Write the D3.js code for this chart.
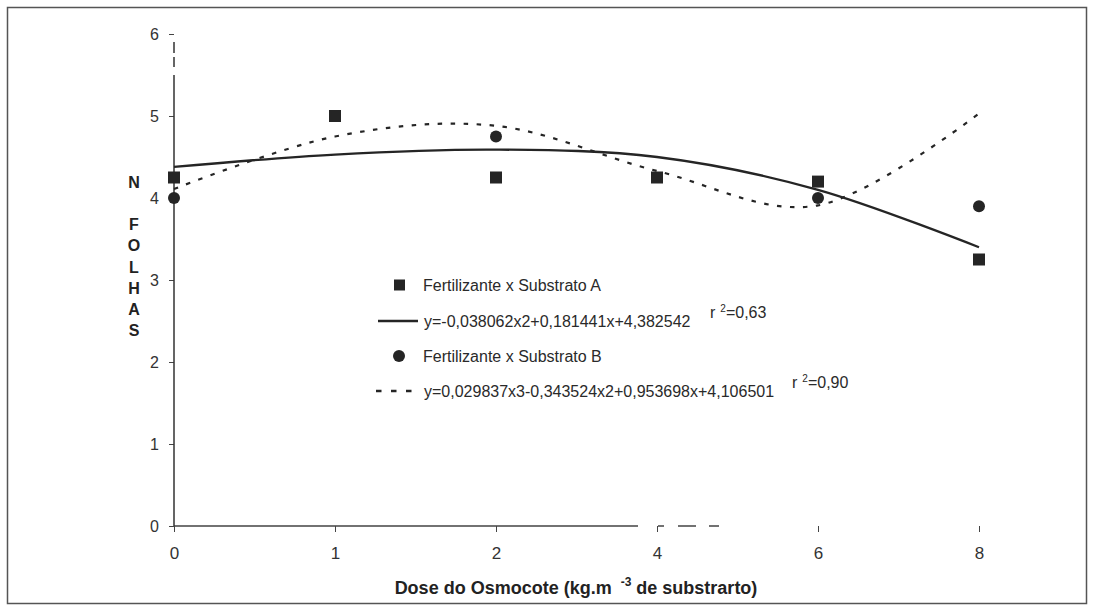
<!DOCTYPE html>
<html>
<head>
<meta charset="utf-8">
<script src="https://cdn.jsdelivr.net/npm/d3@7"></script>
<style>
  body { margin: 0; background: #fff; }
  svg { display: block; }
</style>
</head>
<body>
<div></div>
<script>
const width = 1094, height = 611
const svg = d3.select("div").append("svg")
    .attr("xmlns", "http://www.w3.org/2000/svg")
    .attr("width", width)
    .attr("height", height)

// data
const doses = ["0", "1", "2", "4", "6", "8"]
const obsA = [4.25, 5.0, 4.25, 4.25, 4.2, 3.25]      // squares
const obsB = [4.0, null, 4.75, null, 4.0, 3.9]       // circles (hidden at 1 and 4)
const fitA = [4.38, 4.53, 4.59, 4.50, 4.10, 3.40]    // solid trend
const fitB = [4.11, 4.75, 4.88, 4.33, 3.91, 5.03]    // dashed trend
const yTicks = [0, 1, 2, 3, 4, 5, 6]
const legendNames = ["Fertilizante x Substrato A", "Fertilizante x Substrato B"]
const legendEqs = ["y=-0,038062x2+0,181441x+4,382542", "y=0,029837x3-0,343524x2+0,953698x+4,106501"]
const legendR2 = ["=0,63", "=0,90"]
const yLetters = ["N", "", "F", "O", "L", "H", "A", "S"]

// settings
const font = "'Liberation Sans', Arial, sans-serif"
const ink = "#252525"
const dash = "4.5,8.5"

// scales
const x = d3.scalePoint().domain(doses).range([174, 979])
const y = d3.scaleLinear().domain([0, 6]).range([526, 34])

// frame
svg.append("rect")
    .attr("x", 7.5).attr("y", 7.5)
    .attr("width", 1079).attr("height", 596)
    .attr("fill", "none")
    .attr("stroke", "#555")
    .attr("stroke-width", 1.5)

// x axis (scan has lost most of the right half of the line)
const gx = svg.append("g")
    .attr("transform", `translate(0,${y(0)})`)
    .call(d3.axisBottom(x).tickSize(6).tickSizeOuter(0).tickPadding(15))
gx.select(".domain").remove()
gx.selectAll("line").attr("stroke", "#444")
gx.selectAll("text").attr("font-family", font).attr("font-size", 17).attr("fill", "#333")
svg.append("line")
    .attr("x1", x("0")).attr("x2", x("8"))
    .attr("y1", y(0)).attr("y2", y(0))
    .attr("stroke", "#444").attr("stroke-width", 1.3)
    .attr("stroke-dasharray", "464,20,6,14,18,13,10,1000")

// y axis
const gy = svg.append("g")
    .attr("transform", `translate(${x("0")},0)`)
    .call(d3.axisLeft(y).tickValues(yTicks).tickFormat(d3.format("d")).tickSize(5).tickPadding(10))
gy.select(".domain").remove()
gy.selectAll("line").attr("stroke", "#444")
gy.selectAll("text").attr("font-family", font).attr("font-size", 16).attr("fill", "#333")
svg.append("line")
    .attr("x1", x("0")).attr("x2", x("0"))
    .attr("y1", y(6)).attr("y2", y(0))
    .attr("stroke", "#333").attr("stroke-width", 1.5)
    .attr("stroke-dasharray", "0,8,11,4,10,8,1000")

// y label, one letter per line
svg.append("g").selectAll("text").data(yLetters).enter().append("text")
    .attr("x", 134)
    .attr("y", (d, i) => 182 + i * 21.2)
    .attr("dy", "0.36em")
    .attr("text-anchor", "middle")
    .attr("font-family", font).attr("font-size", 16).attr("font-weight", "bold")
    .attr("fill", "#222")
    .text(d => d)

// x title
const title = svg.append("text")
    .attr("x", 576).attr("y", 594)
    .attr("text-anchor", "middle")
    .attr("font-family", font).attr("font-size", 18).attr("font-weight", "bold")
    .attr("fill", "#222")
title.append("tspan").text("Dose do Osmocote (kg.m ")
title.append("tspan").attr("font-size", 12).attr("dx", 4).attr("dy", -8).text("-3")
title.append("tspan").attr("dy", 8).text(" de substrarto)")

// trend lines
const line = d3.line()
    .x((d, i) => x(doses[i]))
    .y(d => y(d))
    .curve(d3.curveCardinal.tension(0))
svg.append("path")
    .attr("d", line(fitB))
    .attr("fill", "none").attr("stroke", ink)
    .attr("stroke-width", 2.2).attr("stroke-dasharray", dash)
svg.append("path")
    .attr("d", line(fitA))
    .attr("fill", "none").attr("stroke", ink)
    .attr("stroke-width", 2.3)

// observed points
const obsBPts = obsB.map((v, i) => ({x: doses[i], v})).filter(d => d.v != null)
svg.selectAll(".ptB").data(obsBPts).enter().append("circle")
    .attr("cx", d => x(d.x)).attr("cy", d => y(d.v))
    .attr("r", 6).attr("fill", ink)
svg.selectAll(".ptA").data(obsA).enter().append("rect")
    .attr("x", (d, i) => x(doses[i]) - 6).attr("y", d => y(d) - 6)
    .attr("width", 12).attr("height", 12).attr("fill", ink)

// legend
const lg = svg.append("g").attr("font-family", font).attr("font-size", 16).attr("fill", "#2a2a2a")
const rowY = [285, 321, 356, 391]
lg.append("rect").attr("x", 394).attr("y", rowY[0] - 5.5).attr("width", 11).attr("height", 11).attr("fill", ink)
lg.append("circle").attr("cx", 399).attr("cy", rowY[2]).attr("r", 6).attr("fill", ink)
lg.append("line").attr("x1", 378).attr("x2", 418).attr("y1", rowY[1]).attr("y2", rowY[1])
    .attr("stroke", ink).attr("stroke-width", 2.3)
lg.append("line").attr("x1", 376).attr("x2", 418).attr("y1", rowY[3]).attr("y2", rowY[3])
    .attr("stroke", ink).attr("stroke-width", 2.3).attr("stroke-dasharray", "5.5,9.5")
lg.selectAll(".name").data(legendNames).enter().append("text")
    .attr("x", 423).attr("y", (d, i) => rowY[i * 2]).attr("dy", "0.36em")
    .text(d => d)
lg.selectAll(".eq").data(legendEqs).enter().append("text")
    .attr("x", 424).attr("y", (d, i) => rowY[i * 2 + 1]).attr("dy", "0.36em")
    .text(d => d)
const r2x = [710, 792]
legendR2.forEach((r, i) => {
    const t = lg.append("text")
        .attr("x", r2x[i]).attr("y", rowY[i * 2 + 1] - 9).attr("dy", "0.36em")
    t.append("tspan").text("r")
    t.append("tspan").attr("font-size", 10).attr("dx", 5).attr("dy", -6).text("2")
    t.append("tspan").attr("dy", 6).text(r)
})
</script>
</body>
</html>
